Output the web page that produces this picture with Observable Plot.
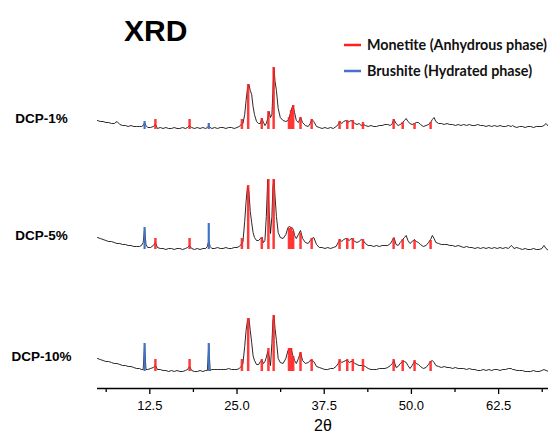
<!DOCTYPE html>
<html><head><meta charset="utf-8">
<script src="https://cdn.jsdelivr.net/npm/d3@7"></script>
<script src="https://cdn.jsdelivr.net/npm/@observablehq/plot@0.6"></script>
<style>
body{margin:0;background:#fff}
#wrap{position:relative;width:548px;height:436px}
</style>
</head><body>
<div id="wrap"></div>
<script>
// ---- data ----
const samples = ["DCP-1%", "DCP-5%", "DCP-10%"];
const offsets = [242, 122, 0]; // stacking offset (a.u.)

const twoTheta = [
  5.0, 5.4, 5.8, 6.2, 6.6, 7.0, 7.4, 7.8, 8.2, 8.6,
  9.0, 9.4, 9.8, 10.2, 10.6, 11.0, 11.3, 11.55, 11.75, 11.95,
  12.2, 12.6, 13.0, 13.3, 13.6, 14.0, 14.4, 14.8, 15.2, 15.6,
  16.0, 16.4, 16.8, 17.2, 17.6, 17.9, 18.2, 18.5, 18.9, 19.3,
  19.7, 20.1, 20.5, 20.75, 20.95, 21.15, 21.4, 21.8, 22.2, 22.6,
  23.0, 23.4, 23.8, 24.2, 24.6, 25.0, 25.3, 25.6, 25.85, 26.1,
  26.3, 26.5, 26.7, 26.9, 27.1, 27.3, 27.5, 27.8, 28.1, 28.35,
  28.55, 28.8, 29.0, 29.2, 29.4, 29.6, 29.8, 30.0, 30.15, 30.3,
  30.45, 30.65, 30.9, 31.2, 31.6, 32.0, 32.3, 32.5, 32.75, 33.0,
  33.25, 33.5, 33.8, 34.1, 34.4, 34.8, 35.2, 35.5, 35.75, 36.0,
  36.4, 36.8, 37.2, 37.6, 38.0, 38.4, 38.8, 39.2, 39.5, 39.75,
  40.0, 40.3, 40.6, 40.85, 41.1, 41.35, 41.6, 41.9, 42.2, 42.5,
  42.8, 43.1, 43.4, 43.8, 44.2, 44.6, 45.0, 45.4, 45.8, 46.2,
  46.6, 47.0, 47.25, 47.5, 47.8, 48.1, 48.4, 48.75, 49.0, 49.25,
  49.5, 49.8, 50.1, 50.45, 50.7, 51.0, 51.3, 51.7, 52.1, 52.45,
  52.75, 53.0, 53.25, 53.5, 53.9, 54.3, 54.7, 55.1, 55.5, 55.9,
  56.3, 56.7, 57.1, 57.5, 57.9, 58.3, 58.7, 59.1, 59.5, 59.9,
  60.3, 60.7, 61.1, 61.5, 61.9, 62.3, 62.7, 63.1, 63.5, 63.9,
  64.3, 64.5, 64.7, 65.1, 65.5, 65.9, 66.3, 66.7, 67.1, 67.5,
  67.9, 68.3, 68.7, 69.0, 69.3, 69.65
];

const intensity1 = [
  6, 5, 5, 4, 4, 3, 3, 5, 2, 1,
  1, 0, 1, 0, 0, 0, 0, 1, 4, 1,
  -1, -1, 0, 2, -2, -1, -2, -1, -2, -2,
  -1, -2, -2, -1, -2, -1, 1, -1, -2, -1,
  -2, -1, -2, -1, 1, -1, -2, -1, -2, -1,
  -1, -2, -1, -1, -2, -1, 0, 2, 3, 12,
  26, 38, 42, 36, 32, 20, 12, 5, 3, 3,
  8, 4, 1, 3, 8, 15, 9, 12, 35, 59,
  45, 36, 18, 9, 6, 5, 6, 9, 16, 21,
  14, 6, 4, 9, 4, 1, 0, 3, 7, 5,
  0, -1, -2, -1, -2, -1, -2, 0, 2, 5,
  3, 5, 6, 4, 5, 6, 5, 3, 2, 3,
  1, 2, 1, 0, 1, 0, 0, 1, 1, 2,
  2, 1, 3, 7, 3, 1, 2, 4, 6, 8,
  5, 3, 2, 3, 4, 4, 2, 0, 1, 2,
  4, 7, 9, 5, 3, 3, 2, 3, 2, 2,
  1, 2, 1, 2, 1, 2, 1, 1, 2, 1,
  1, 0, 1, 0, 1, 0, 1, 0, 0, 1,
  0, 1, 0, -1, 0, 0, -1, 0, 0, -1,
  0, 0, 0, 1, 3, 0
];

const intensity5 = [
  9, 8, 7, 6, 5, 5, 4, 3, 3, 2,
  2, 1, 1, 0, 0, 0, 1, 4, 18, 2,
  -1, -1, 1, 4, -1, -2, -2, -3, -2, -2,
  -3, -2, -2, -3, -2, -1, 1, -2, -3, -2,
  -3, -2, -2, 0, 6, 0, -2, -2, -1, -2,
  -2, -1, -2, -2, -1, -1, 0, 2, 5, 25,
  45, 60, 55, 35, 24, 14, 9, 6, 6, 8,
  9, 4, 6, 30, 67, 35, 13, 30, 60, 67,
  50, 30, 14, 9, 8, 12, 19, 20, 19, 18,
  11, 8, 12, 16, 8, 4, 3, 6, 8, 9,
  2, -1, -1, -2, -1, -2, -1, 0, 4, 7,
  5, 7, 8, 7, 6, 8, 7, 5, 4, 5,
  7, 6, 3, 1, 1, 0, 1, 0, 1, 1,
  1, 3, 6, 9, 2, 1, 4, 7, 9, 11,
  6, 3, 5, 7, 5, 4, 2, 0, 1, 4,
  7, 11, 8, 4, 3, 2, 2, 2, 1, 1,
  0, 1, 0, -1, 0, -1, -1, -2, -1, -2,
  -1, -2, -1, -2, -1, -2, -1, -2, -1, -2,
  1, 0, -2, -1, -2, -3, -2, -3, -3, -2,
  -3, -3, -2, 1, -2, -4
];

const intensity10 = [
  10, 9, 8, 7, 7, 6, 5, 5, 4, 3,
  3, 2, 2, 1, 0, 0, -1, -1, 24, -1,
  -1, 0, 1, 3, -1, -1, -2, -2, -3, -2,
  -3, -2, -3, -3, -2, -1, 2, -2, -3, -3,
  -2, -3, -2, -2, 24, -2, -1, -1, -1, -1,
  -1, -1, 0, -1, -1, -1, 0, 2, 5, 22,
  38, 48, 50, 38, 26, 13, 8, 4, 4, 7,
  8, 5, 7, 11, 17, 12, 3, 25, 48, 53,
  40, 28, 10, 6, 5, 10, 18, 19, 20, 13,
  8, 5, 10, 16, 8, 5, 6, 8, 8, 7,
  2, 1, 0, -1, -1, 0, 0, 2, 5, 8,
  6, 7, 8, 8, 6, 7, 7, 5, 4, 3,
  3, 3, 2, 0, -1, -1, -1, 0, 0, 0,
  1, 3, 5, 8, 1, 2, 5, 7, 7, 6,
  3, 0, 3, 7, 5, 4, 2, 0, 1, 4,
  7, 8, 6, 3, 2, 1, 2, 1, 1, 0,
  1, 0, 0, 0, -1, 0, -1, -1, -2, -2,
  -1, -2, -1, -2, -1, -1, -2, -1, -1, 0,
  0, -1, -1, -2, -2, -2, -3, -3, -3, -2,
  -3, -3, -2, -1, -2, -3
];

// reference stick patterns
const monetitePos = [13.3, 18.2, 25.7, 26.6, 28.55, 29.5, 30.25, 32.45, 32.75, 33.05,
                     34.1, 35.7, 39.7, 40.8, 41.6, 43.05, 47.45, 48.75, 50.45, 52.75];
const monetite1  = [7, 7, 7, 42, 8, 15, 59, 9, 16, 21, 9, 7, 5, 6, 6, 4, 7, 4, 3, 4];
const monetite5  = [8, 8, 8, 61, 9, 67, 67, 18, 19, 15, 13, 8, 7, 8, 8, 7, 8, 7, 6, 6];
const monetite10 = [9, 9, 9, 50, 9, 20, 53, 20, 20, 12, 16, 9, 9, 9, 9, 9, 9, 8, 8, 7];
const brushitePos = [11.75, 20.95];
const brushite1  = [5, 3];
const brushite5  = [19, 23];
const brushite10 = [25, 25];
const stickBase = -3;

const majorTicks = [12.5, 25.0, 37.5, 50.0, 62.5];
const minorTicks = [6.25, 18.75, 31.25, 43.75, 56.25, 68.75];

const legendItems = ["Monetite (Anhydrous phase)", "Brushite (Hydrated phase)"];
const legendColors = ["#ff1f1f", "#4472c4"];

// ---- build tables ----
const intensities = [intensity1, intensity5, intensity10];
const monetite = [monetite1, monetite5, monetite10];
const brushite = [brushite1, brushite5, brushite10];

const traces = samples.flatMap((s, i) =>
  twoTheta.map((t, j) => ({sample: s, t, v: offsets[i] + intensities[i][j]})));
const mSticks = samples.flatMap((s, i) =>
  monetitePos.map((t, j) => ({sample: s, t, y1: offsets[i] + stickBase, y2: offsets[i] + monetite[i][j]})));
const bSticks = samples.flatMap((s, i) =>
  brushitePos.map((t, j) => ({sample: s, t, y1: offsets[i] + stickBase, y2: offsets[i] + brushite[i][j]})));
const labels = samples.map((s, i) => ({sample: s, t: twoTheta[0], v: offsets[i] + intensities[i][0]}));

const chart = Plot.plot({
  width: 548, height: 436,
  marginLeft: 97, marginRight: 0, marginTop: 0, marginBottom: 48,
  x: {domain: [5, 69.65]},
  y: {domain: [-20, 368], axis: null},
  style: {fontFamily: "'Liberation Sans', Arial, sans-serif", fontSize: "13px", color: "#000", background: "#fff", overflow: "visible"},
  marks: [
    Plot.lineY(traces, {x: "t", y: "v", z: "sample", stroke: "#111", strokeWidth: 0.9}),
    Plot.ruleX(mSticks, {x: "t", y1: "y1", y2: "y2", stroke: legendColors[0], strokeWidth: 2.5, strokeOpacity: 0.88}),
    Plot.ruleX(bSticks, {x: "t", y1: "y1", y2: "y2", stroke: legendColors[1], strokeWidth: 2.2}),
    Plot.ruleY([-20], {stroke: "#000", strokeWidth: 1.6}),
    Plot.axisX(majorTicks, {tickSize: 6, tickPadding: 6, tickFormat: d => d.toFixed(1), fontSize: 13, strokeWidth: 1.3, label: null}),
    Plot.axisX(minorTicks, {tickSize: 4, tickFormat: () => "", strokeWidth: 1.3, label: null}),
    Plot.text(["2θ"], {frameAnchor: "bottom", dy: 42, fontSize: 16}),
    Plot.text(labels, {x: "t", y: "v", text: "sample", dx: -56, dy: -2, textAnchor: "middle", fontWeight: "bold", fontSize: 13.5})
  ]
});
document.getElementById("wrap").appendChild(chart);

// title + legend
const svg = d3.select(chart);
svg.append("text").attr("x", 124).attr("y", 41).attr("text-anchor", "start")
  .attr("font-family", "'Liberation Sans', Arial, sans-serif").attr("font-weight", "bold")
  .attr("font-size", 30).attr("fill", "#000").text("XRD");
const lg = svg.append("g").attr("font-family", "Lato, 'Open Sans', sans-serif")
  .attr("font-weight", "bold").attr("font-size", 14.3).attr("text-anchor", "start");
legendItems.forEach((name, i) => {
  const y = 45 + i * 26;
  lg.append("line").attr("x1", 344).attr("x2", 361).attr("y1", y).attr("y2", y)
    .attr("stroke", legendColors[i]).attr("stroke-width", 2.5);
  lg.append("text").attr("x", 367).attr("y", y + 1).attr("dominant-baseline", "middle")
    .attr("fill", "#111").text(name);
});
</script>
</body></html>
